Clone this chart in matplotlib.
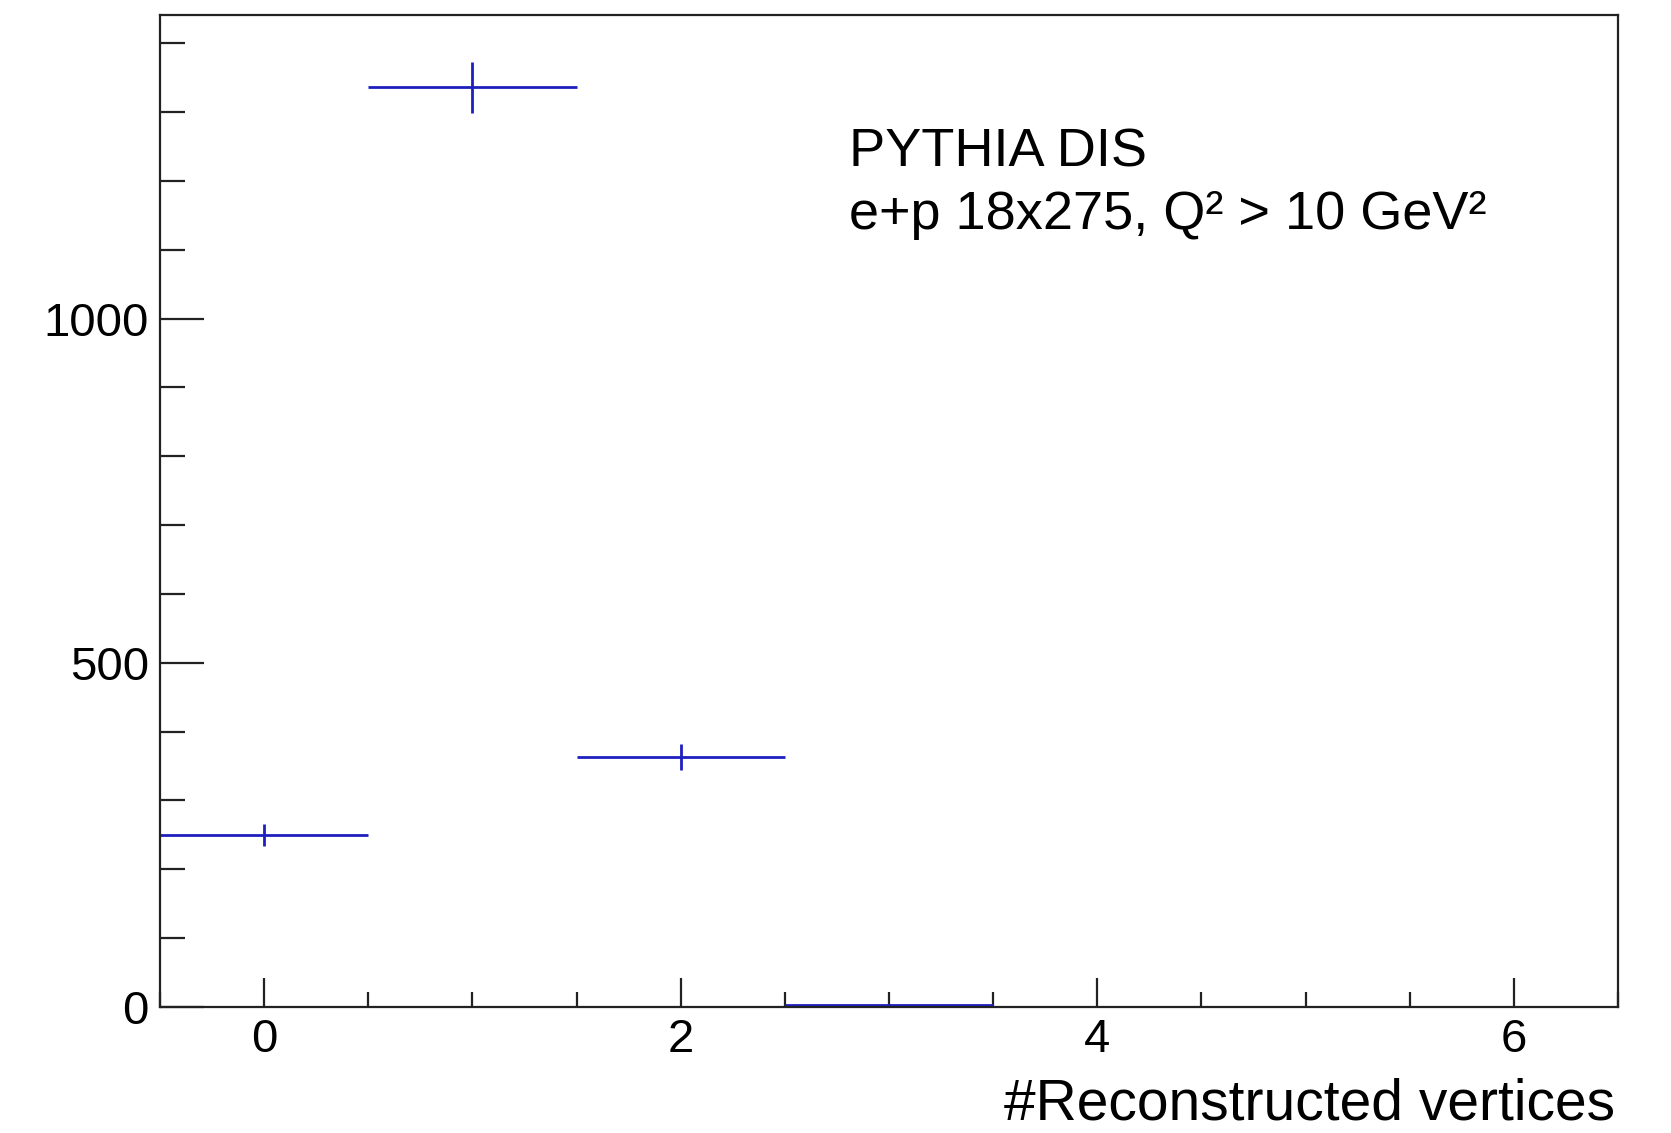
import matplotlib
matplotlib.use("Agg")
import matplotlib.pyplot as plt
from matplotlib.ticker import MultipleLocator

# Data
bin_centers = [0, 1, 2, 3]
counts = [250, 1336, 363, 3]
count_errors = [16, 37, 19, 2]
bin_half_width = 0.5
xlabel = "#Reconstructed vertices"
label_line1 = "PYTHIA DIS"
label_line2 = "e+p 18x275, Q\u00b2 > 10 GeV\u00b2"

plt.rcParams['font.family'] = ['Liberation Sans', 'DejaVu Sans']

fig = plt.figure(figsize=(16.71, 11.33), dpi=100)
ax = fig.add_axes([0.0958, 0.1112, 0.8725, 0.8756])

blue = (0.12, 0.12, 0.75)
ax.errorbar(bin_centers, counts, xerr=bin_half_width, yerr=count_errors,
            fmt='none', ecolor=blue, elinewidth=2.0, capsize=0)

ax.set_xlim(-0.5, 6.5)
ax.set_ylim(0, 1441)

ax.xaxis.set_major_locator(MultipleLocator(2))
ax.xaxis.set_minor_locator(MultipleLocator(0.5))
ax.yaxis.set_major_locator(MultipleLocator(500))
ax.yaxis.set_minor_locator(MultipleLocator(100))

for s in ax.spines.values():
    s.set_linewidth(1.6)
    s.set_color('#222222')

ax.tick_params(axis='x', which='major', direction='in', length=21, width=1.6,
               labelsize=34, pad=8, color='#222222')
ax.tick_params(axis='x', which='minor', direction='in', length=11, width=1.6,
               color='#222222')
ax.tick_params(axis='y', which='major', direction='in', length=32, width=1.6,
               labelsize=34, pad=8, color='#222222')
ax.tick_params(axis='y', which='minor', direction='in', length=18, width=1.6,
               color='#222222')

ax.text(0.998, -0.113, xlabel, transform=ax.transAxes, ha='right', va='baseline',
        fontsize=41)
ax.text(0.4726, 0.847, label_line1, transform=ax.transAxes, ha='left',
        va='baseline', fontsize=39)
ax.text(0.4726, 0.784, label_line2, transform=ax.transAxes, ha='left',
        va='baseline', fontsize=39)

fig.savefig("out.png", dpi=100)
